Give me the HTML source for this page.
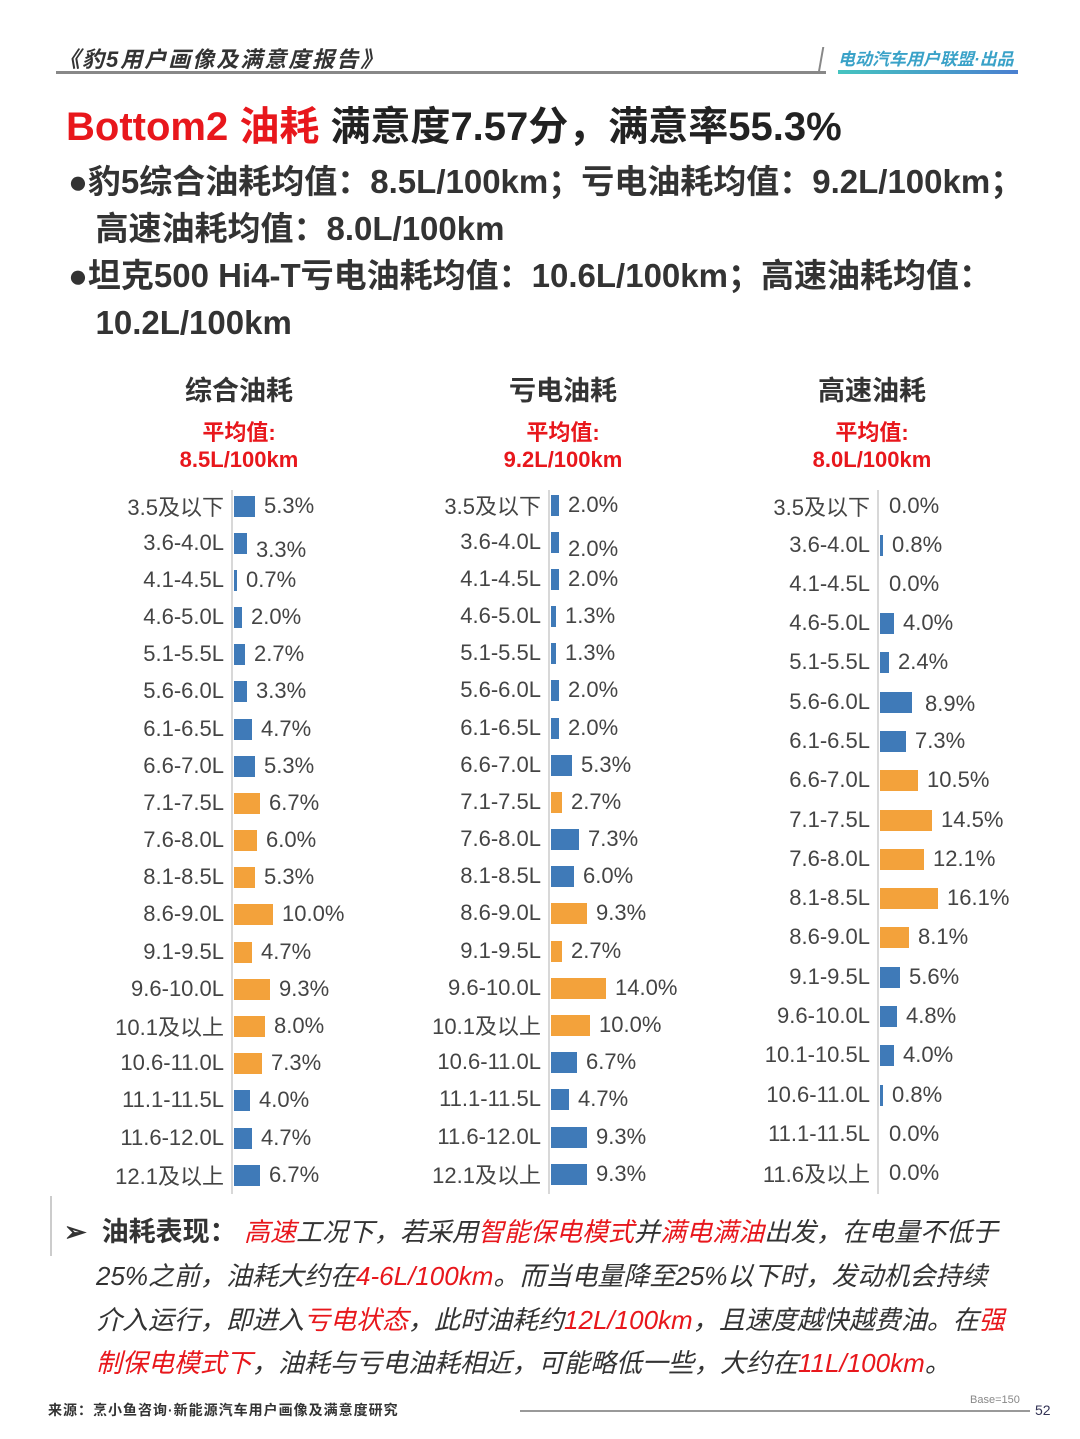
<!DOCTYPE html><html><head><meta charset="utf-8"><style>
body{margin:0;width:1080px;height:1439px;background:#fff;position:relative;overflow:hidden;font-family:"Liberation Sans","Noto Sans CJK SC",sans-serif;color:#333}
.a{position:absolute;white-space:nowrap}
.col{position:absolute;top:0;width:1px}
.ax{position:absolute;width:2px;background:#d8d8d8}
.r{position:absolute;left:0;width:0;height:22px;display:flex;align-items:center;font-size:22px;color:#444;white-space:nowrap}
.r span{position:absolute;right:8px;white-space:nowrap}
.r i{display:block;flex-shrink:0;height:21px;background:#3f7ab8;margin-left:2px}
.r i.o{background:#f3a23b}
.r b{font-weight:normal;margin-left:9px;flex-shrink:0;white-space:nowrap}
.h{font-size:27px;font-weight:bold;color:#333;text-align:center;width:300px}
.av{font-size:22px;font-weight:bold;color:#e8171c;text-align:center;width:300px;line-height:27px}
.red{color:#e8171c}
.bt{font-size:26px;font-style:italic;color:#333;line-height:44px}
</style></head><body>
<div class="a" style="left:58px;top:42px;font-size:22px;font-weight:bold;font-style:italic;color:#333;letter-spacing:2px">《豹5用户画像及满意度报告》</div>
<div class="a" style="left:56px;top:71px;width:770px;height:3px;background:#888"></div>
<div class="a" style="left:820px;top:47px;width:2px;height:26px;background:#888;transform:skewX(-10deg)"></div>
<div class="a" style="left:838px;top:45px;font-size:17px;font-weight:bold;font-style:italic;color:#3aa2c8">电动汽车用户联盟·出品</div>
<div class="a" style="left:838px;top:70px;width:180px;height:4px;background:linear-gradient(90deg,#45c4c0,#4a7fd0)"></div>
<div class="a" style="left:66px;top:94px;font-size:40px;font-weight:bold;color:#222"><span class="red">Bottom2 油耗</span> 满意度7.57分，满意率55.3%</div>
<div class="a" style="left:68px;top:158px;font-size:33px;font-weight:bold;color:#333;line-height:47px">●豹5综合油耗均值：8.5L/100km；亏电油耗均值：9.2L/100km；<br>&nbsp;&nbsp;&nbsp;高速油耗均值：8.0L/100km<br>●坦克500 Hi4-T亏电油耗均值：10.6L/100km；高速油耗均值：<br>&nbsp;&nbsp;&nbsp;10.2L/100km</div>
<div class="a h" style="left:89px;top:369px">综合油耗</div>
<div class="a h" style="left:413px;top:369px">亏电油耗</div>
<div class="a h" style="left:722px;top:369px">高速油耗</div>
<div class="a av" style="left:89px;top:419px">平均值:<br>8.5L/100km</div>
<div class="a av" style="left:413px;top:419px">平均值:<br>9.2L/100km</div>
<div class="a av" style="left:722px;top:419px">平均值:<br>8.0L/100km</div>
<div class="ax" style="left:231px;top:490px;height:704px"></div>
<div class="ax" style="left:548px;top:490px;height:704px"></div>
<div class="ax" style="left:877px;top:490px;height:704px"></div>
<div class="col" style="left:232px">
<div class="r" style="top:495px"><span>3.5及以下</span><i style="width:21px"></i><b>5.3%</b></div>
<div class="r" style="top:532px"><span>3.6-4.0L</span><i style="width:13px"></i><b style="margin-top:14px">3.3%</b></div>
<div class="r" style="top:569px"><span>4.1-4.5L</span><i style="width:3px"></i><b>0.7%</b></div>
<div class="r" style="top:606px"><span>4.6-5.0L</span><i style="width:8px"></i><b>2.0%</b></div>
<div class="r" style="top:643px"><span>5.1-5.5L</span><i style="width:11px"></i><b>2.7%</b></div>
<div class="r" style="top:680px"><span>5.6-6.0L</span><i style="width:13px"></i><b>3.3%</b></div>
<div class="r" style="top:718px"><span>6.1-6.5L</span><i style="width:18px"></i><b>4.7%</b></div>
<div class="r" style="top:755px"><span>6.6-7.0L</span><i style="width:21px"></i><b>5.3%</b></div>
<div class="r" style="top:792px"><span>7.1-7.5L</span><i class="o" style="width:26px"></i><b>6.7%</b></div>
<div class="r" style="top:829px"><span>7.6-8.0L</span><i class="o" style="width:23px"></i><b>6.0%</b></div>
<div class="r" style="top:866px"><span>8.1-8.5L</span><i class="o" style="width:21px"></i><b>5.3%</b></div>
<div class="r" style="top:903px"><span>8.6-9.0L</span><i class="o" style="width:39px"></i><b>10.0%</b></div>
<div class="r" style="top:941px"><span>9.1-9.5L</span><i class="o" style="width:18px"></i><b>4.7%</b></div>
<div class="r" style="top:978px"><span>9.6-10.0L</span><i class="o" style="width:36px"></i><b>9.3%</b></div>
<div class="r" style="top:1015px"><span>10.1及以上</span><i class="o" style="width:31px"></i><b>8.0%</b></div>
<div class="r" style="top:1052px"><span>10.6-11.0L</span><i class="o" style="width:28px"></i><b>7.3%</b></div>
<div class="r" style="top:1089px"><span>11.1-11.5L</span><i style="width:16px"></i><b>4.0%</b></div>
<div class="r" style="top:1127px"><span>11.6-12.0L</span><i style="width:18px"></i><b>4.7%</b></div>
<div class="r" style="top:1164px"><span>12.1及以上</span><i style="width:26px"></i><b>6.7%</b></div>
</div>
<div class="col" style="left:549px">
<div class="r" style="top:494px"><span>3.5及以下</span><i style="width:8px"></i><b>2.0%</b></div>
<div class="r" style="top:531px"><span>3.6-4.0L</span><i style="width:8px"></i><b style="margin-top:14px">2.0%</b></div>
<div class="r" style="top:568px"><span>4.1-4.5L</span><i style="width:8px"></i><b>2.0%</b></div>
<div class="r" style="top:605px"><span>4.6-5.0L</span><i style="width:5px"></i><b>1.3%</b></div>
<div class="r" style="top:642px"><span>5.1-5.5L</span><i style="width:5px"></i><b>1.3%</b></div>
<div class="r" style="top:679px"><span>5.6-6.0L</span><i style="width:8px"></i><b>2.0%</b></div>
<div class="r" style="top:717px"><span>6.1-6.5L</span><i style="width:8px"></i><b>2.0%</b></div>
<div class="r" style="top:754px"><span>6.6-7.0L</span><i style="width:21px"></i><b>5.3%</b></div>
<div class="r" style="top:791px"><span>7.1-7.5L</span><i class="o" style="width:11px"></i><b>2.7%</b></div>
<div class="r" style="top:828px"><span>7.6-8.0L</span><i style="width:28px"></i><b>7.3%</b></div>
<div class="r" style="top:865px"><span>8.1-8.5L</span><i style="width:23px"></i><b>6.0%</b></div>
<div class="r" style="top:902px"><span>8.6-9.0L</span><i class="o" style="width:36px"></i><b>9.3%</b></div>
<div class="r" style="top:940px"><span>9.1-9.5L</span><i class="o" style="width:11px"></i><b>2.7%</b></div>
<div class="r" style="top:977px"><span>9.6-10.0L</span><i class="o" style="width:55px"></i><b>14.0%</b></div>
<div class="r" style="top:1014px"><span>10.1及以上</span><i class="o" style="width:39px"></i><b>10.0%</b></div>
<div class="r" style="top:1051px"><span>10.6-11.0L</span><i style="width:26px"></i><b>6.7%</b></div>
<div class="r" style="top:1088px"><span>11.1-11.5L</span><i style="width:18px"></i><b>4.7%</b></div>
<div class="r" style="top:1126px"><span>11.6-12.0L</span><i style="width:36px"></i><b>9.3%</b></div>
<div class="r" style="top:1163px"><span>12.1及以上</span><i style="width:36px"></i><b>9.3%</b></div>
</div>
<div class="col" style="left:878px">
<div class="r" style="top:495px"><span>3.5及以下</span><i style="width:0"></i><b>0.0%</b></div>
<div class="r" style="top:534px"><span>3.6-4.0L</span><i style="width:3px"></i><b>0.8%</b></div>
<div class="r" style="top:573px"><span>4.1-4.5L</span><i style="width:0"></i><b>0.0%</b></div>
<div class="r" style="top:612px"><span>4.6-5.0L</span><i style="width:14px"></i><b>4.0%</b></div>
<div class="r" style="top:651px"><span>5.1-5.5L</span><i style="width:9px"></i><b>2.4%</b></div>
<div class="r" style="top:691px"><span>5.6-6.0L</span><i style="width:32px"></i><b style="margin-left:13px;margin-top:4px">8.9%</b></div>
<div class="r" style="top:730px"><span>6.1-6.5L</span><i style="width:26px"></i><b>7.3%</b></div>
<div class="r" style="top:769px"><span>6.6-7.0L</span><i class="o" style="width:38px"></i><b>10.5%</b></div>
<div class="r" style="top:809px"><span>7.1-7.5L</span><i class="o" style="width:52px"></i><b>14.5%</b></div>
<div class="r" style="top:848px"><span>7.6-8.0L</span><i class="o" style="width:44px"></i><b>12.1%</b></div>
<div class="r" style="top:887px"><span>8.1-8.5L</span><i class="o" style="width:58px"></i><b>16.1%</b></div>
<div class="r" style="top:926px"><span>8.6-9.0L</span><i class="o" style="width:29px"></i><b>8.1%</b></div>
<div class="r" style="top:966px"><span>9.1-9.5L</span><i style="width:20px"></i><b>5.6%</b></div>
<div class="r" style="top:1005px"><span>9.6-10.0L</span><i style="width:17px"></i><b>4.8%</b></div>
<div class="r" style="top:1044px"><span>10.1-10.5L</span><i style="width:14px"></i><b>4.0%</b></div>
<div class="r" style="top:1084px"><span>10.6-11.0L</span><i style="width:3px"></i><b>0.8%</b></div>
<div class="r" style="top:1123px"><span>11.1-11.5L</span><i style="width:0"></i><b>0.0%</b></div>
<div class="r" style="top:1162px"><span>11.6及以上</span><i style="width:0"></i><b>0.0%</b></div>
</div>
<div class="a" style="left:50px;top:1196px;width:2px;height:60px;background:#ccc"></div>
<div class="a bt" style="left:64px;top:1210px;font-style:normal;font-weight:bold;font-size:27px">➢&nbsp; 油耗表现：</div>
<div class="a bt" style="left:244px;top:1210px"><span class="red">高速</span>工况下，若采用<span class="red">智能保电模式</span>并<span class="red">满电满油</span>出发，在电量不低于</div>
<div class="a bt" style="left:96px;top:1254px">25%之前，油耗大约在<span class="red">4-6L/100km</span>。而当电量降至25%以下时，发动机会持续</div>
<div class="a bt" style="left:96px;top:1298px">介入运行，即进入<span class="red">亏电状态</span>，此时油耗约<span class="red">12L/100km</span>，且速度越快越费油。在<span class="red">强</span></div>
<div class="a bt" style="left:96px;top:1341px"><span class="red">制保电模式下</span>，油耗与亏电油耗相近，可能略低一些，大约在<span class="red">11L/100km</span>。</div>
<div class="a" style="left:48px;top:1400px;font-size:14px;font-weight:bold;color:#333;letter-spacing:1px">来源：烹小鱼咨询·新能源汽车用户画像及满意度研究</div>
<div class="a" style="left:520px;top:1410px;width:510px;height:2px;background:#999"></div>
<div class="a" style="left:970px;top:1394px;font-size:11px;color:#888">Base=150</div>
<div class="a" style="left:1035px;top:1402px;font-size:14px;color:#335">52</div>
</body></html>
